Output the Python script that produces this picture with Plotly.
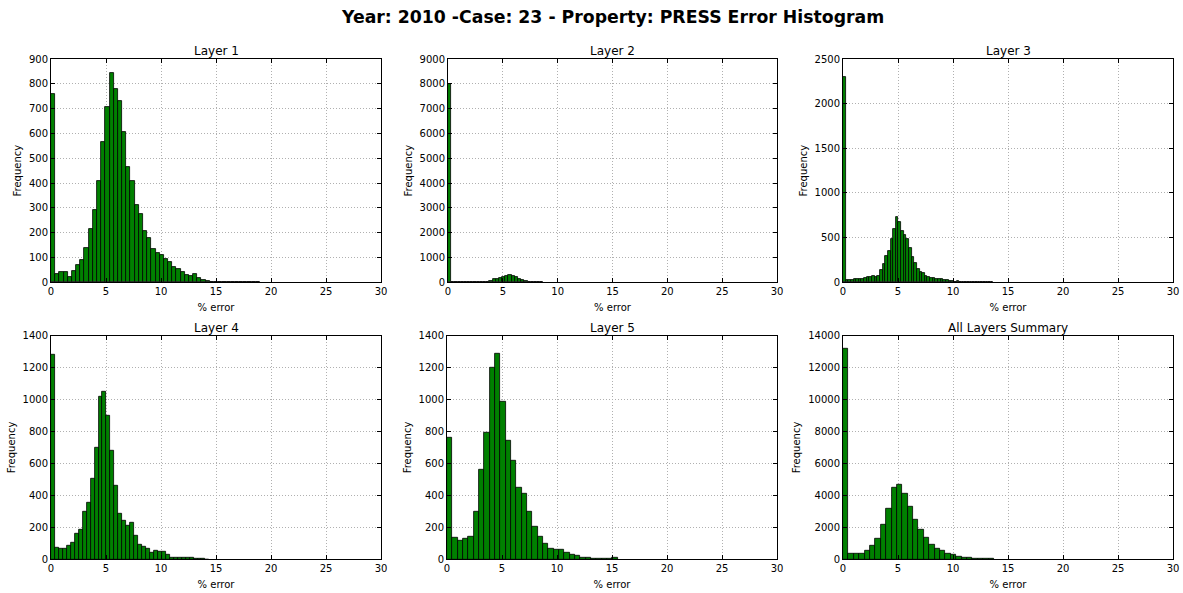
import plotly.graph_objects as go

# ---------------- data ----------------
panel_titles = ["Layer 1", "Layer 2", "Layer 3", "Layer 4", "Layer 5", "All Layers Summary"]

layer1_bin_width = 0.38
layer1_counts = [760, 35, 40, 40, 20, 45, 70, 90, 140, 215, 290, 410, 565, 705, 845, 780,
                 730, 605, 465, 410, 310, 275, 205, 180, 135, 120, 110, 95, 80, 60, 55, 40,
                 30, 25, 35, 18, 10, 6, 3, 2, 3, 2, 1, 2, 3, 2, 2, 0, 0, 3]

layer2_bin_width = 0.29
layer2_counts = [8000, 20, 15, 15, 10, 10, 10, 10, 15, 15, 15, 20, 25, 40, 130, 150, 160,
                 220, 270, 280, 270, 220, 150, 80, 40, 25, 20, 20, 15, 10]

layer3_bin_width = 0.24
layer3_counts = [2300, 25, 25, 28, 32, 38, 38, 42, 50, 55, 60, 65, 62, 70, 140, 210, 290,
                 350, 490, 600, 730, 680, 570, 530, 480, 380, 280, 220, 150, 120, 100, 75,
                 60, 50, 45, 42, 35, 35, 28, 28, 20, 18, 8, 18, 8, 5, 5, 4, 4, 4, 3, 3, 3,
                 3, 2, 2, 2]

layer4_bin_width = 0.36
layer4_counts = [1280, 75, 67, 67, 83, 105, 160, 185, 300, 355, 505, 700, 1015, 1050, 900,
                 680, 460, 285, 240, 208, 232, 150, 92, 78, 68, 40, 52, 50, 45, 27, 8, 12,
                 12, 12, 12, 12, 5, 5, 5, 0]

layer5_bin_width = 0.485
layer5_counts = [760, 138, 115, 128, 142, 300, 560, 795, 1200, 1290, 985, 745, 615, 450,
                 410, 295, 205, 140, 100, 68, 58, 58, 44, 27, 22, 13, 8, 6, 4, 2, 2, 8]

summary_bin_width = 0.49
summary_counts = [13200, 370, 370, 370, 520, 830, 1270, 2150, 3170, 4500, 4650, 4090, 3300,
                  2460, 1830, 1380, 920, 690, 520, 375, 270, 190, 125, 85, 63, 42, 42, 30]

x_ticks = [0, 5, 10, 15, 20, 25, 30]
y_ranges = [900, 9000, 2500, 1400, 1400, 14000]
y_dticks = [100, 1000, 500, 200, 200, 2000]

bin_widths = [layer1_bin_width, layer2_bin_width, layer3_bin_width,
              layer4_bin_width, layer5_bin_width, summary_bin_width]
all_counts = [layer1_counts, layer2_counts, layer3_counts,
              layer4_counts, layer5_counts, summary_counts]

# ---------------- layout geometry (pixels in a 1183x593 page) ----------------
W, H = 1183, 593
col_px = [(51, 381), (448, 777), (843, 1173), (51, 381), (447, 777), (843, 1173)]
row_px = [(59, 282.3), (59, 282.3), (59, 282.3), (335.7, 559.3), (335.7, 559.3), (335.7, 559.3)]

font_family = "DejaVu Sans, Liberation Sans, Arial, sans-serif"

fig = go.Figure()
annotations = []
for i in range(6):
    w = bin_widths[i]
    counts = all_counts[i]
    centers = [(k + 0.5) * w for k in range(len(counts))]
    xa = "x" if i == 0 else f"x{i+1}"
    ya = "y" if i == 0 else f"y{i+1}"
    fig.add_trace(go.Bar(
        x=centers, y=counts, width=w,
        marker=dict(color="#008000", line=dict(color="black", width=0.8)),
        xaxis=xa, yaxis=ya, showlegend=False, hoverinfo="x+y",
    ))
    x0, x1 = col_px[i]
    y0, y1 = row_px[i]
    xd = [x0 / W, x1 / W]
    yd = [1 - y1 / H, 1 - y0 / H]
    common = dict(
        showline=True, linecolor="black", linewidth=1, mirror="ticks",
        ticks="inside", ticklen=4, tickcolor="black", automargin=False,
        showgrid=True, gridcolor="#b0b0b0", griddash="1px,2px", gridwidth=1,
        zeroline=False, tickfont=dict(size=10, color="black", family=font_family),
    )
    xkey = "xaxis" if i == 0 else f"xaxis{i+1}"
    ykey = "yaxis" if i == 0 else f"yaxis{i+1}"
    fig.layout[xkey] = dict(
        domain=xd, anchor=ya, range=[0, 30], tickmode="array", tickvals=x_ticks,
        title=dict(text="% error", font=dict(size=10, color="black", family=font_family), standoff=7),
        **common,
    )
    fig.layout[ykey] = dict(
        domain=yd, anchor=xa, range=[0, y_ranges[i]], dtick=y_dticks[i], tick0=0,
        tickformat="d",
        title=dict(text="Frequency", font=dict(size=10, color="black", family=font_family), standoff=5),
        **common,
    )
    annotations.append(dict(
        text=panel_titles[i], x=(xd[0] + xd[1]) / 2, y=yd[1], xref="paper", yref="paper",
        xanchor="center", yanchor="bottom", showarrow=False, yshift=-1,
        font=dict(size=12, color="black", family=font_family),
    ))

annotations.append(dict(
    text="<b>Year: 2010 -Case: 23 - Property: PRESS Error Histogram</b>",
    x=612 / W, y=1 - 17 / H, xref="paper", yref="paper", xanchor="center", yanchor="middle",
    showarrow=False, font=dict(size=17.3, color="black", family=font_family),
))

fig.update_layout(
    width=W, height=H, margin=dict(l=0, r=0, t=0, b=0, autoexpand=False),
    paper_bgcolor="white", plot_bgcolor="white",
    annotations=annotations, bargap=0,
)

fig.write_html(
    "out.html",
    config={"displayModeBar": False},
    post_script="document.body.style.margin='0';document.body.style.overflow='hidden';",
)
